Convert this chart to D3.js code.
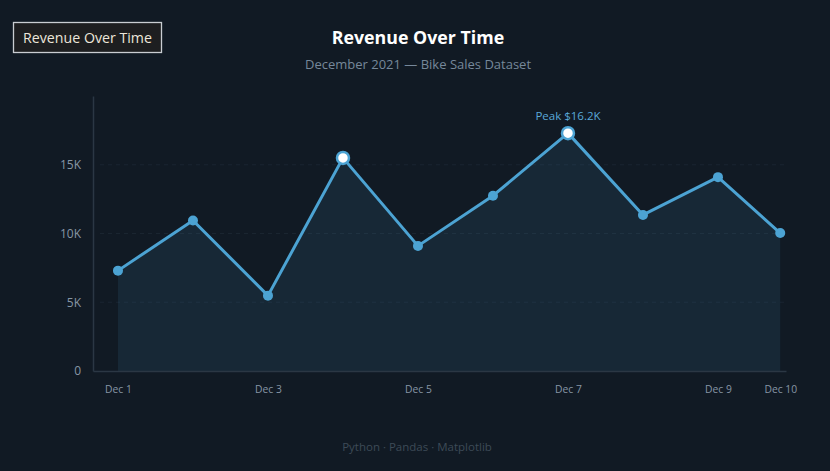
<!DOCTYPE html>
<html><head><meta charset="utf-8">
<script src="https://cdn.jsdelivr.net/npm/d3@7"></script>
<style>
html,body{margin:0;padding:0;background:#111a24;}
svg{display:block;font-family:"Open Sans","Noto Sans",sans-serif;}
</style></head>
<body>
<svg id="c" width="830" height="471"></svg>
<script>
// data
const days = [1, 2, 3, 4, 5, 6, 7, 8, 9, 9.83];
const revenue = [7300, 10950, 5480, 15500, 9100, 12750, 17300, 11350, 14100, 10030];
const highlighted = [false, false, false, true, false, false, true, false, false, false];
const xTickDays = [1, 3, 5, 7, 9, 9.83];
const xTickLabels = ["Dec 1", "Dec 3", "Dec 5", "Dec 7", "Dec 9", "Dec 10"];
const yTicks = [0, 5000, 10000, 15000];
const yTickLabels = ["0", "5K", "10K", "15K"];
const peakLabel = "Peak $16.2K";
const peakIndex = 6;

const data = days.map((d, i) => ({d, v: revenue[i], hi: highlighted[i]}));
const svg = d3.select("#c");

const x = d3.scaleLinear().domain([0.667, 9.907]).range([93, 786]);
const y = d3.scaleLinear().domain([0, 20000]).range([371, 96]);

// header button
svg.append("rect").attr("x", 13.5).attr("y", 22.5).attr("width", 148).attr("height", 30)
  .attr("fill", "#1d1e20").attr("stroke", "#c9cdd2").attr("stroke-width", 1.3);
svg.append("text").attr("x", 87.5).attr("y", 43).attr("text-anchor", "middle")
  .attr("fill", "#ece6da").attr("font-size", 14.2).text("Revenue Over Time");

// titles
svg.append("text").attr("x", 418).attr("y", 44).attr("text-anchor", "middle")
  .attr("fill", "#ffffff").attr("font-size", 17.8).attr("font-weight", 700).text("Revenue Over Time");
svg.append("text").attr("x", 418).attr("y", 69).attr("text-anchor", "middle")
  .attr("fill", "#76889a").attr("font-size", 13).text("December 2021 \u2014 Bike Sales Dataset");

// grid
svg.append("g").selectAll("line").data(yTicks.slice(1)).join("line")
  .attr("x1", 100).attr("x2", 786).attr("y1", d => y(d)).attr("y2", d => y(d))
  .attr("stroke", "#1a2530").attr("stroke-width", 1).attr("stroke-dasharray", "4,4");

// area
const area = d3.area().x(d => x(d.d)).y0(y(0)).y1(d => y(d.v));
svg.append("path").datum(data).attr("d", area).attr("fill", "#4aa3d6").attr("fill-opacity", 0.1);

// axes
const yAxis = d3.axisLeft(y).tickValues(yTicks).tickFormat((d, i) => yTickLabels[i]).tickSize(0).tickPadding(12);
const gy = svg.append("g").attr("transform", "translate(93,0)").call(yAxis);
gy.select(".domain").attr("stroke", "#2b3744").attr("stroke-width", 1.5);
gy.selectAll("text").attr("fill", "#8796a5").attr("font-size", 12).attr("font-family", "Open Sans");

const xAxis = d3.axisBottom(x).tickValues(xTickDays).tickFormat((d, i) => xTickLabels[i]).tickSize(0).tickPadding(15);
const gx = svg.append("g").attr("transform", "translate(0,371)").call(xAxis);
gx.select(".domain").attr("stroke", "#2b3744").attr("stroke-width", 1.5);
gx.selectAll("text").attr("fill", "#8796a5").attr("font-size", 10.3).attr("font-family", "Open Sans");

// line
const line = d3.line().x(d => x(d.d)).y(d => y(d.v));
svg.append("path").datum(data).attr("d", line).attr("fill", "none")
  .attr("stroke", "#4ca3d3").attr("stroke-width", 3).attr("stroke-linejoin", "round");

// points
svg.append("g").selectAll("circle").data(data).join("circle")
  .attr("cx", d => x(d.d)).attr("cy", d => y(d.v))
  .attr("r", d => d.hi ? 6 : 5)
  .attr("fill", d => d.hi ? "#ffffff" : "#4ca3d3")
  .attr("stroke", d => d.hi ? "#4ca3d3" : "none")
  .attr("stroke-width", d => d.hi ? 2.5 : 0);

// peak label
svg.append("text").attr("x", x(days[peakIndex])).attr("y", y(revenue[peakIndex]) - 13)
  .attr("text-anchor", "middle").attr("fill", "#5aa8d8").attr("font-size", 11.5).text(peakLabel);

// footer
svg.append("text").attr("x", 417).attr("y", 451).attr("text-anchor", "middle")
  .attr("fill", "#3d4a57").attr("font-size", 11.5).text("Python \u00b7 Pandas \u00b7 Matplotlib");
</script>
</body></html>
